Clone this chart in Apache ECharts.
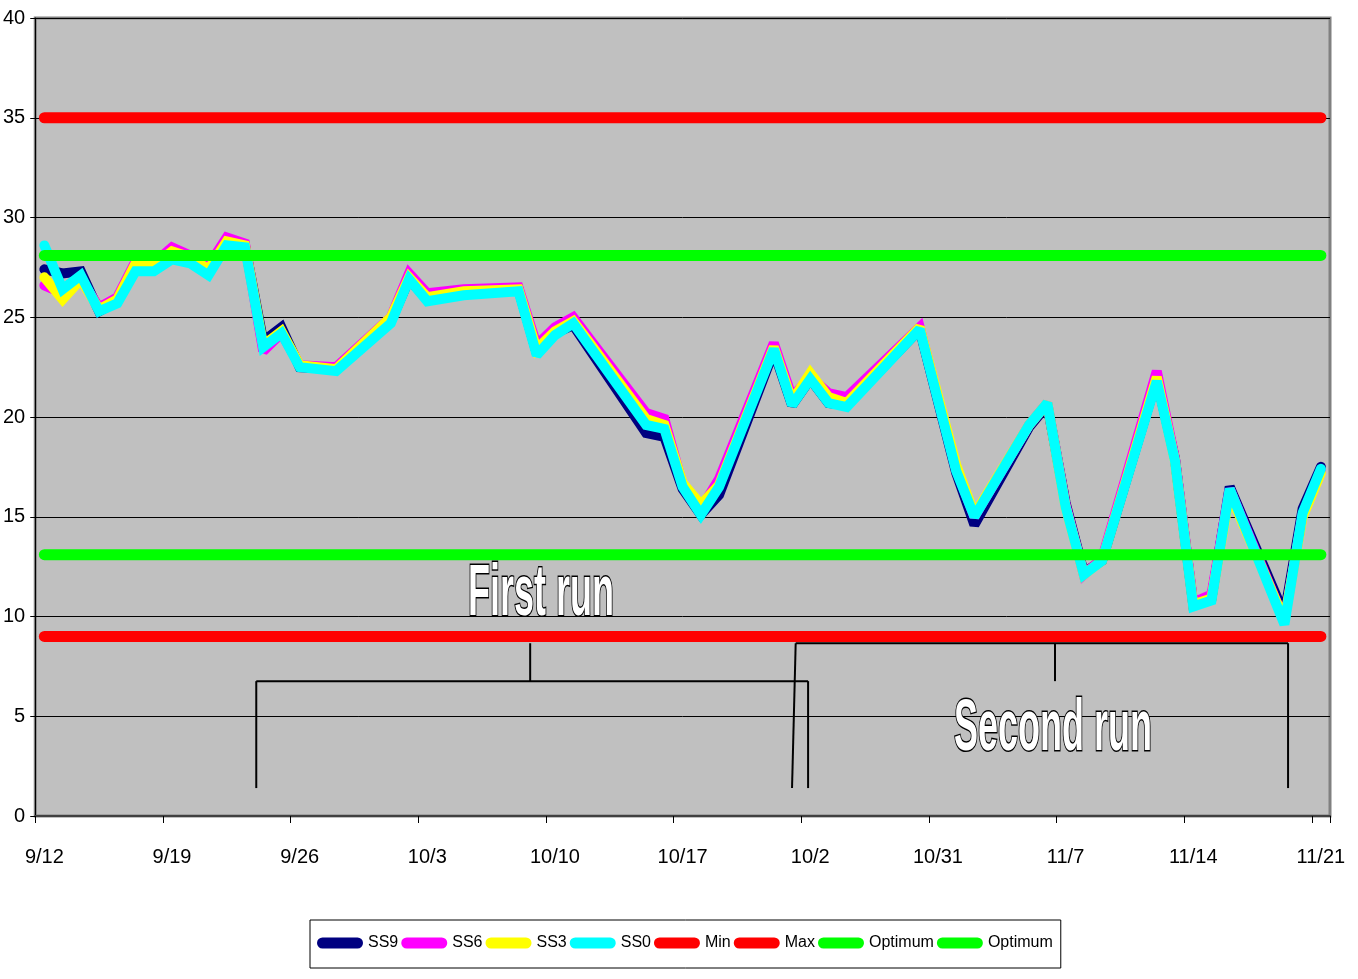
<!DOCTYPE html>
<html>
<head>
<meta charset="utf-8">
<title>Temperature runs</title>
<script src="https://cdn.jsdelivr.net/npm/echarts@6/dist/echarts.min.js"></script>
<style>
  html, body { margin: 0; padding: 0; background: #fff; }
  #chart { width: 1358px; height: 979px; }
</style>
</head>
<body>
<div id="chart"></div>
<script>
// One category per day, 9/12 through 11/21
const startDate = new Date(2000, 8, 12);
const dayCount = 71;
const categories = [];
for (let i = 0; i < dayCount; i++) {
  const d = new Date(startDate.getTime() + i * 86400000);
  categories.push((d.getMonth() + 1) + '/' + d.getDate());
}

// Weekly tick labels along the date axis
const tickLabels = ['9/12', '9/19', '9/26', '10/3', '10/10', '10/17', '10/2', '10/31', '11/7', '11/14', '11/21'];

// Readings per day (null = no reading that day)
const ss9 = [27.4, 27.2, 27.3, 25.3, 25.8, 27.5, 27.5, 28.2, 27.9, 27.5,
             28.8, 28.6, 23.8, 24.5, 22.5, null, 22.4, null, null, 24.8,
             26.9, 25.9, null, 26.2, null, null, 26.4, 23.2, 24.2, 24.6,
             null, null, null, 19.2, 19.0, 16.4, 15.1, 16.1, null, null,
             23.3, 20.6, 21.9, 20.7, 20.6, null, null, null, 24.4, null,
             17.2, 14.6, null, null, 19.5, 20.6, 15.7, 12.2, 12.8, null,
             null, 21.9, 17.9, 10.6, 10.9, 16.5, null, null, 10.1, 15.4,
             17.5];
const ss6 = [26.6, 26.2, 26.9, 25.5, 26.0, 27.8, 27.7, 28.5, 28.1, 27.6,
             29.0, 28.7, 23.3, 24.2, 22.6, null, 22.5, null, null, 25.0,
             27.2, 26.2, null, 26.4, null, null, 26.5, 23.6, 24.5, 25.0,
             23.8, null, null, 20.2, 19.9, 16.6, 15.4, 16.9, null, null,
             23.7, 21.0, 22.0, 21.2, 21.0, null, null, null, 24.5, null,
             17.4, 15.0, null, null, 19.6, 20.7, 15.6, 12.1, 12.9, null,
             null, 22.3, 17.9, 10.7, 11.1, 16.4, null, null, 9.8, 15.1,
             17.3];
const ss3 = [27.0, 25.9, 26.9, 25.4, 25.9, 27.7, 27.6, 28.3, 28.0, 27.4,
             28.8, 28.6, 23.6, 24.3, 22.6, null, 22.4, null, null, 25.0,
             27.0, 26.0, null, 26.3, null, null, 26.4, 23.4, 24.3, 24.8,
             23.6, null, null, 19.9, 19.6, 16.7, 15.6, 16.6, null, null,
             23.5, 20.8, 22.2, 21.0, 20.7, null, null, null, 24.5, null,
             17.6, 15.1, null, null, 19.6, 20.7, 15.5, 12.1, 12.8, null,
             null, 22.0, 17.8, 10.6, 10.9, 16.2, null, null, 9.8, 15.0,
             17.2];
const ss0 = [28.6, 26.4, 27.1, 25.3, 25.7, 27.3, 27.3, 27.9, 27.7, 27.1,
             28.6, 28.5, 23.5, 24.2, 22.5, null, 22.3, null, null, 24.7,
             26.9, 25.8, null, 26.1, null, null, 26.3, 23.1, 24.1, 24.7,
             null, null, null, 19.6, 19.4, 16.5, 15.1, 16.5, null, null,
             23.4, 20.6, 21.9, 20.7, 20.5, null, null, null, 24.4, null,
             17.3, 15.0, null, null, 19.6, 20.7, 15.5, 12.1, 12.8, null,
             null, 21.8, 17.8, 10.5, 10.8, 16.4, null, null, 9.6, 15.2,
             17.4];

// Limits
const minLevel = 9;
const maxLevel = 35;
const optimumLow = 13.1;
const optimumHigh = 28.1;

// Run brackets: [dayFrom, valueFrom, dayTo, valueTo]
const firstRunBracket = [
  [11.62, 1.4, 11.62, 6.76],
  [11.62, 6.76, 41.88, 6.76],
  [41.88, 6.76, 41.88, 1.4],
  [26.64, 6.76, 26.64, 8.66]
];
const secondRunBracket = [
  [41.2, 8.66, 41.0, 1.4],
  [41.2, 8.66, 68.2, 8.66],
  [68.2, 8.66, 68.2, 1.4],
  [55.42, 8.66, 55.42, 6.76]
];

const labelFont = '"Liberation Sans", Arial, sans-serif';
const legendIcon = 'path://M5.5,0H40.5A5.5,5.5,0,0,1,40.5,11H5.5A5.5,5.5,0,0,1,5.5,0Z';

function readingSeries(name, values, color) {
  return {
    name: name,
    type: 'line',
    data: values,
    connectNulls: true,
    showSymbol: false,
    symbol: 'none',
    color: color,
    itemStyle: { color: color },
    lineStyle: { color: color, width: 10, cap: 'round', join: 'miter', miterLimit: 2 },
    silent: true
  };
}

function levelSeries(name, level, color) {
  return {
    name: name,
    type: 'line',
    data: [[categories[0], level], [categories[dayCount - 1], level]],
    symbol: 'none',
    color: color,
    itemStyle: { color: color },
    lineStyle: { color: color, width: 11, cap: 'round' },
    silent: true
  };
}

function bracketSeries(name, segments) {
  return {
    name: name,
    type: 'custom',
    xAxisIndex: 1,
    yAxisIndex: 0,
    data: segments,
    encode: { x: [0, 2], y: [1, 3] },
    silent: true,
    renderItem: function (params, api) {
      const a = api.coord([api.value(0), api.value(1)]);
      const b = api.coord([api.value(2), api.value(3)]);
      return {
        type: 'line',
        shape: { x1: a[0], y1: a[1], x2: b[0], y2: b[1] },
        style: { stroke: '#000', lineWidth: 2 }
      };
    }
  };
}

const chart = echarts.init(document.getElementById('chart'), null, { renderer: 'canvas' });

chart.setOption({
  animation: false,
  backgroundColor: '#ffffff',
  grid: {
    left: 35, right: 28, top: 18, bottom: 163,
    show: true,
    backgroundColor: '#C0C0C0',
    borderColor: '#808080',
    borderWidth: 3
  },
  legend: {
    data: ['SS9', 'SS6', 'SS3', 'SS0', 'Min', 'Max', 'Optimum-lo', 'Optimum-hi'],
    formatter: function (name) { return name.split('-')[0]; },
    left: 310,
    top: 920,
    padding: [15, 8, 17, 7],
    itemGap: 3,
    itemWidth: 46,
    itemHeight: 11,
    icon: legendIcon,
    backgroundColor: '#ffffff',
    borderColor: '#000000',
    borderWidth: 1,
    textStyle: { fontFamily: labelFont, fontSize: 16, color: '#000', padding: [4, 0, 0, 0] },
    selectedMode: false
  },
  xAxis: [
    {
      type: 'category',
      data: categories,
      boundaryGap: true,
      axisLine: { show: true, lineStyle: { color: '#404040', width: 2 } },
      axisTick: { show: true, interval: 6, length: 7, lineStyle: { color: '#000' } },
      axisLabel: {
        interval: 6,
        margin: 31,
        fontSize: 20,
        fontFamily: labelFont,
        color: '#000',
        formatter: function (value, index) { return tickLabels[index / 7]; }
      },
      splitLine: { show: false }
    },
    {
      type: 'value',
      min: -0.5,
      max: dayCount - 0.5,
      show: false,
      axisLine: { onZero: false },
      splitLine: { show: false }
    }
  ],
  yAxis: {
    type: 'value',
    min: 0,
    max: 40,
    interval: 5,
    axisLine: { show: true, onZero: false, lineStyle: { color: '#000', width: 1 } },
    axisTick: { show: true, length: 5, lineStyle: { color: '#000' } },
    axisLabel: { margin: 10, fontSize: 20, fontFamily: labelFont, color: '#000' },
    splitLine: { show: true, lineStyle: { color: '#000', width: 1 } }
  },
  series: [
    bracketSeries('First run bracket', firstRunBracket),
    bracketSeries('Second run bracket', secondRunBracket),
    readingSeries('SS9', ss9, '#000080'),
    readingSeries('SS6', ss6, '#FF00FF'),
    readingSeries('SS3', ss3, '#FFFF00'),
    readingSeries('SS0', ss0, '#00FFFF'),
    levelSeries('Min', minLevel, '#FF0000'),
    levelSeries('Max', maxLevel, '#FF0000'),
    levelSeries('Optimum-lo', optimumLow, '#00FF00'),
    levelSeries('Optimum-hi', optimumHigh, '#00FF00')
  ],
  graphic: [
    {
      type: 'text',
      x: 541, y: 595,
      scaleX: 0.5,
      z: 100,
      style: {
        text: 'First run',
        font: 'bold 72px "Liberation Sans", Arial, sans-serif',
        fill: '#ffffff',
        stroke: '#000000',
        lineWidth: 3,
        align: 'center',
        verticalAlign: 'middle'
      }
    },
    {
      type: 'text',
      x: 1053, y: 730,
      scaleX: 0.5,
      z: 100,
      style: {
        text: 'Second run',
        font: 'bold 72px "Liberation Sans", Arial, sans-serif',
        fill: '#ffffff',
        stroke: '#000000',
        lineWidth: 3,
        align: 'center',
        verticalAlign: 'middle'
      }
    }
  ]
});
</script>
</body>
</html>
